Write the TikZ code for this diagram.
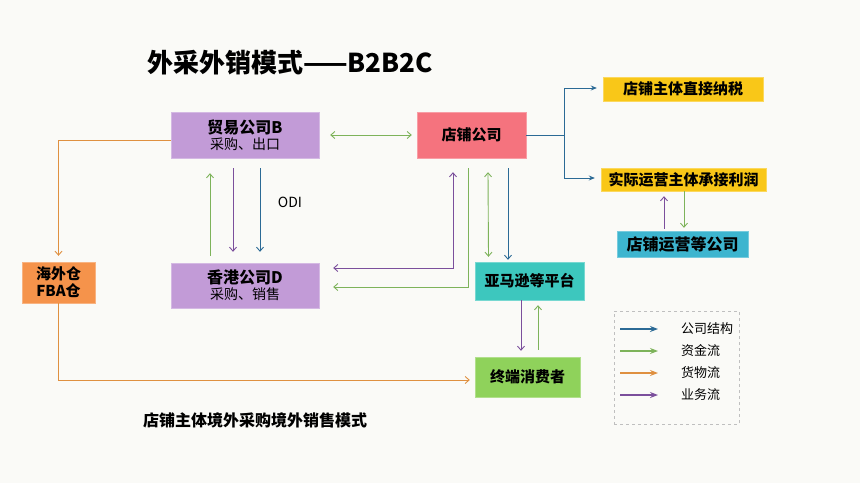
\documentclass[tikz,border=0pt]{standalone}
\usepackage{fontspec}
\setmainfont{Noto Sans CJK SC}
\usetikzlibrary{arrows.meta}
\definecolor{bgc}{HTML}{FAFAF7}
\definecolor{cblue}{HTML}{2B6A95}
\definecolor{cgreen}{HTML}{7DB35A}
\definecolor{cpurple}{HTML}{7B4F9C}
\definecolor{corange}{HTML}{DF9040}
\definecolor{fpurple}{HTML}{C29BD7}
\definecolor{fred}{HTML}{F5737E}
\definecolor{fteal}{HTML}{3DC7BE}
\definecolor{fgreen}{HTML}{8FD25B}
\definecolor{forange}{HTML}{F5934B}
\definecolor{fyellow}{HTML}{F9C718}
\definecolor{fcyan}{HTML}{3DB5CF}
\tikzset{
  box/.style={inner sep=0pt, align=center, text=black, font=\fontsize{15}{18}\selectfont\bfseries},
  ln/.style={line width=0.9pt},
  bar/.style={ln, -{Straight Barb[length=4pt,width=7pt]}},
  dbar/.style={ln, {Straight Barb[length=4pt,width=7pt]}-{Straight Barb[length=4pt,width=7pt]}},
  tri/.style={ln, -{Stealth[length=6pt,width=5pt]}},
  ltri/.style={line width=1.1pt, -{Stealth[length=8pt,width=6pt]}},
}
\begin{document}
\begin{tikzpicture}[x=1pt,y=-1pt]
\fill[bgc] (0,0) rectangle (860,483);
\useasboundingbox (0,0) rectangle (860,483);

% title
\node[anchor=west, inner sep=0pt, font=\fontsize{26}{30}\selectfont\bfseries] (title) at (147,63) {外采外销模式——B2B2C};

% boxes
\node[box, fill=fpurple, draw=fpurple!70!white, minimum width=148pt, minimum height=46pt, font=\fontsize{16}{18}\selectfont\bfseries] (B) at (245,135)
  {贸易公司B\\[-2pt]{\fontsize{14}{16}\selectfont\mdseries 采购、出口}};
\node[box, fill=fred, draw=fred!70!white, minimum width=109pt, minimum height=46pt] (S) at (471.5,135) {店铺公司};
\node[box, fill=fpurple, draw=fpurple!70!white, minimum width=148pt, minimum height=45pt, font=\fontsize{16}{18}\selectfont\bfseries] (D) at (245,285.5)
  {香港公司D\\[-2pt]{\fontsize{14}{16}\selectfont\mdseries 采购、销售}};
\node[box, fill=fteal, draw=fteal!70!white, minimum width=109pt, minimum height=38pt] (A) at (529.5,281) {亚马逊等平台};
\node[box, fill=fgreen, draw=fgreen!70!white, minimum width=105pt, minimum height=40pt] (C) at (527.5,377) {终端消费者};
\node[box, fill=forange, draw=forange!70!white, minimum width=73pt, minimum height=41pt, font=\fontsize{15}{17}\selectfont\bfseries] (W) at (58.5,282.5) {海外仓\\FBA仓};
\node[box, fill=fyellow, draw=fyellow!70!white, minimum width=160pt, minimum height=24pt] (N) at (683,89) {店铺主体直接纳税};
\node[box, fill=fyellow, draw=fyellow!70!white, minimum width=165pt, minimum height=23pt] (R) at (683.5,179.5) {实际运营主体承接利润};
\node[box, fill=fcyan, draw=fcyan!70!white, minimum width=131pt, minimum height=26pt, font=\fontsize{16}{18}\selectfont\bfseries] (O) at (682.5,244) {店铺运营等公司};

\node[inner sep=0pt, font=\fontsize{14}{16}\selectfont] (odi) at (290,202) {ODI};

% B <-> S
\draw[dbar, cgreen] ([xshift=11pt]B.east) -- ([xshift=-5pt]S.west);

% B / D verticals
\draw[bar, cgreen] ([xshift=-35pt,yshift=7pt]D.north) -- ([xshift=-35pt,yshift=-15pt]B.south);
\draw[bar, cpurple] ([xshift=-12pt,yshift=-10pt]B.south) -- ([xshift=-12pt,yshift=11pt]D.north);
\draw[bar, cblue] ([xshift=15pt,yshift=-10pt]B.south) -- ([xshift=15pt,yshift=11pt]D.north);

% S <-> D
\draw[dbar, cpurple] ([xshift=14pt,yshift=17.5pt]D.east) -| ([xshift=-18.5pt,yshift=-14pt]S.south);
\draw[bar, cgreen] ([xshift=-3.5pt,yshift=-10pt]S.south) |- ([xshift=14pt,yshift=-1.5pt]D.east);

% S <-> A
\draw[dbar, cgreen] ([xshift=16.5pt,yshift=-14pt]S.south) -- ([xshift=-41pt,yshift=5pt]A.north);
\draw[bar, cblue] ([xshift=36.5pt,yshift=-10pt]S.south) -- ([xshift=-21.5pt,yshift=2pt]A.north);

% A <-> C
\draw[bar, cpurple] ([xshift=-8.5pt]A.south) -- ([xshift=-6.5pt,yshift=6pt]C.north);
\draw[bar, cgreen] ([xshift=10.5pt,yshift=7pt]C.north) -- ([xshift=8.5pt,yshift=-5pt]A.south);

% blue tree
\coordinate (j) at (564,135);
\draw[tri, cblue] (S.east) -- (j) |- ([xshift=-6pt,yshift=1pt]N.west);
\draw[tri, cblue] (j) |- ([xshift=-6pt,yshift=1.5pt]R.west);

% O <-> R
\draw[bar, cpurple] ([xshift=-18.5pt,yshift=2pt]O.north) -- ([xshift=-19.5pt,yshift=-5pt]R.south);
\draw[bar, cgreen] ([xshift=0.5pt]R.south) -- ([xshift=1.5pt,yshift=3pt]O.north);

% orange
\draw[bar, corange] ([yshift=-5pt]B.west) -| ([yshift=6pt]W.north);
\draw[bar, corange] (W.south) |- ([xshift=-5pt,yshift=-3pt]C.west);

% legend
\node[draw=gray!50, dashed, line width=0.6pt, minimum width=125pt, minimum height=113pt, inner sep=0pt] (L) at (676.5,367.5) {};
\foreach \yy/\cc/\tt [count=\i] in {329/cblue/公司结构, 351/cgreen/资金流, 373/corange/货物流, 395/cpurple/业务流}{
  \coordinate (la\i) at (620,\yy);
  \coordinate (lb\i) at (658,\yy);
  \draw[ltri, \cc] (la\i) -- (lb\i);
  \node[anchor=west, inner sep=0pt, font=\fontsize{13}{15}\selectfont] (lt\i) at (681,\yy) {\tt};
}

% footnote
\node[anchor=west, inner sep=0pt, font=\fontsize{16}{18}\selectfont\bfseries] (foot) at (143,420) {店铺主体境外采购境外销售模式};
\end{tikzpicture}
\end{document}
